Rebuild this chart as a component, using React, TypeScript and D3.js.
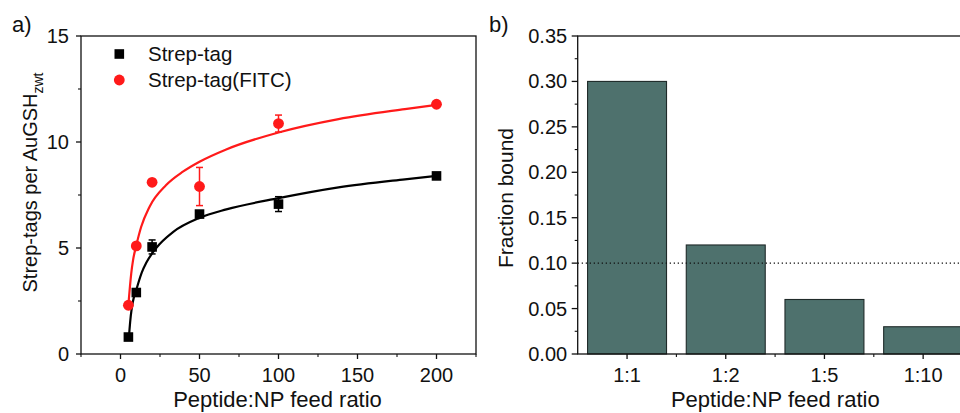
import React from "react";
import * as d3 from "d3";

// Panel a: strep-tag loading vs feed ratio
const feedRatio = [5, 10, 20, 50, 100, 200];
const strepTag = [0.8, 2.9, 5.05, 6.6, 7.07, 8.4];
const strepTagErr = [0, 0, 0.33, 0, 0.35, 0];
const strepFitc = [2.3, 5.1, 8.1, 7.9, 10.87, 11.78];
const strepFitcErr = [0, 0, 0, 0.9, 0.4, 0];

// Fitted curves, sampled as [x, y]
const strepTagFit: [number, number][] = [
  [5.3, 0.75], [5.7, 1.15], [6.5, 1.8], [7.8, 2.45], [9.9, 3.0], [11, 3.28], [13.5, 3.85],
  [16.3, 4.3], [22.6, 5.0], [33.2, 5.75], [50, 6.42], [67, 6.82], [100, 7.35],
  [138, 7.86], [180, 8.24], [200, 8.4],
];
const strepFitcFit: [number, number][] = [
  [4.8, 2.1], [5.3, 2.6], [6.0, 3.2], [6.8, 3.8], [8, 4.45], [9.9, 5.09], [13.1, 6.0],
  [18.4, 6.95], [28.9, 7.97], [39.5, 8.6], [50, 9.07], [66.9, 9.65], [100, 10.45],
  [138, 11.08], [180, 11.55], [200, 11.75],
];

const xTicksA = [0, 50, 100, 150, 200];
const xMinorA = [-25, 25, 75, 125, 175, 225];
const yTicksA = [0, 5, 10, 15];
const yMinorA = [2.5, 7.5, 12.5];

// Panel b: fraction bound per feed ratio
const ratioLabels = ["1:1", "1:2", "1:5", "1:10"];
const fractionBound = [0.3, 0.12, 0.06, 0.03];
const thresholdLine = 0.1;
const yTicksB = [0, 0.05, 0.1, 0.15, 0.2, 0.25, 0.3, 0.35];
const yMinorB = [0.025, 0.075, 0.125, 0.175, 0.225, 0.275, 0.325];

const FONT = "'Liberation Sans', Arial, Helvetica, sans-serif";
const INK = "#111";
const RED = "#ff1a1a";

export default function App() {
  const W = 960;
  const H = 413;

  // panel a geometry
  const aL = 81, aR = 476, aT = 36, aB = 354;
  const xA = d3.scaleLinear().domain([-25, 225]).range([aL, aR]);
  const yA = d3.scaleLinear().domain([0, 15]).range([aB, aT]);
  const fitLine = d3
    .line<[number, number]>()
    .x((d) => xA(d[0]))
    .y((d) => yA(d[1]))
    .curve(d3.curveMonotoneX);

  // panel b geometry
  const bL = 577.7, bR = 972.5, bT = 36, bB = 354;
  const xB = d3.scalePoint<string>().domain(ratioLabels).range([bL, bR]).padding(0.5);
  const stepB = xB.step();
  const barW = stepB * 0.8;
  const yB = d3.scaleLinear().domain([0, 0.35]).range([bB, bT]);

  const errBar = (x: number, y: number, e: number, color: string, key: string) => {
    if (!e) return null;
    const cx = xA(x);
    const y1 = yA(y + e);
    const y2 = yA(y - e);
    return (
      <g key={key} stroke={color} strokeWidth={1.5}>
        <line x1={cx} x2={cx} y1={y1} y2={y2} />
        <line x1={cx - 3.5} x2={cx + 3.5} y1={y1} y2={y1} />
        <line x1={cx - 3.5} x2={cx + 3.5} y1={y2} y2={y2} />
      </g>
    );
  };

  return (
    <svg
      width={W}
      height={H}
      style={{ position: "absolute", left: 0, top: 0, background: "#fff" }}
      fontFamily={FONT}
    >
      {/* ---------- panel a ---------- */}
      <text x={12} y={32} fontSize={22} fill={INK}>a)</text>

      {/* y ticks */}
      {yTicksA.map((t) => (
        <g key={"ya" + t}>
          <line x1={aL - 5} x2={aL} y1={yA(t)} y2={yA(t)} stroke={INK} strokeWidth={1.3} />
          <text x={aL - 12} y={yA(t)} dy="0.35em" textAnchor="end" fontSize={20} fill={INK}>
            {t}
          </text>
        </g>
      ))}
      {yMinorA.map((t) => (
        <line key={"yma" + t} x1={aL - 3} x2={aL} y1={yA(t)} y2={yA(t)} stroke={INK} strokeWidth={1.1} />
      ))}
      {/* x ticks */}
      {xTicksA.map((t) => (
        <g key={"xa" + t}>
          <line x1={xA(t)} x2={xA(t)} y1={aB} y2={aB + 5} stroke={INK} strokeWidth={1.3} />
          <text x={xA(t)} y={382} textAnchor="middle" fontSize={20} fill={INK}>
            {t}
          </text>
        </g>
      ))}
      {xMinorA.map((t) => (
        <line key={"xma" + t} x1={xA(t)} x2={xA(t)} y1={aB} y2={aB + 3} stroke={INK} strokeWidth={1.1} />
      ))}

      {/* frame */}
      <rect x={aL} y={aT} width={aR - aL} height={aB - aT} fill="none" stroke={INK} strokeWidth={1.3} />

      {/* fits */}
      <path d={fitLine(strepTagFit) || ""} fill="none" stroke="#000" strokeWidth={2.2} />
      <path d={fitLine(strepFitcFit) || ""} fill="none" stroke={RED} strokeWidth={2.2} />

      {/* error bars */}
      {feedRatio.map((x, i) => errBar(x, strepTag[i], strepTagErr[i], "#000", "eb" + i))}
      {feedRatio.map((x, i) => errBar(x, strepFitc[i], strepFitcErr[i], RED, "er" + i))}

      {/* markers */}
      {feedRatio.map((x, i) => (
        <rect
          key={"sq" + i}
          x={xA(x) - 4.8}
          y={yA(strepTag[i]) - 4.8}
          width={9.6}
          height={9.6}
          fill="#000"
        />
      ))}
      {feedRatio.map((x, i) => (
        <circle key={"ci" + i} cx={xA(x)} cy={yA(strepFitc[i])} r={5.4} fill={RED} />
      ))}

      {/* legend */}
      <rect x={119.3 - 4.8} y={54 - 4.8} width={9.6} height={9.6} fill="#000" />
      <text x={148} y={61} fontSize={20.5} fill={INK}>Strep-tag</text>
      <circle cx={119.3} cy={80} r={5.4} fill={RED} />
      <text x={148} y={87} fontSize={20.5} fill={INK}>Strep-tag(FITC)</text>

      {/* axis titles */}
      <text x={277.5} y={407} textAnchor="middle" fontSize={22} fill={INK}>
        Peptide:NP feed ratio
      </text>
      <text transform={`translate(37,182.5) rotate(-90)`} textAnchor="middle" fontSize={20} fill={INK}>
        Strep-tags per AuGSH
        <tspan fontSize={14} dy={6}>zwt</tspan>
      </text>

      {/* ---------- panel b ---------- */}
      <text x={489} y={32} fontSize={22} fill={INK}>b)</text>

      {/* bars */}
      {ratioLabels.map((c, i) => (
        <rect
          key={"bar" + c}
          x={(xB(c) as number) - barW / 2}
          y={yB(fractionBound[i])}
          width={barW}
          height={bB - yB(fractionBound[i])}
          fill="#4e716d"
          stroke="#1f2a29"
          strokeWidth={1.1}
        />
      ))}

      {/* threshold */}
      <line
        x1={bL}
        x2={W}
        y1={yB(thresholdLine)}
        y2={yB(thresholdLine)}
        stroke={INK}
        strokeWidth={1.3}
        strokeDasharray="1.3,2.7"
      />

      {/* y ticks */}
      {yTicksB.map((t) => (
        <g key={"yb" + t}>
          <line x1={bL - 6} x2={bL} y1={yB(t)} y2={yB(t)} stroke={INK} strokeWidth={1.3} />
          <text x={bL - 10.5} y={yB(t)} dy="0.35em" textAnchor="end" fontSize={20} fill={INK}>
            {t.toFixed(2)}
          </text>
        </g>
      ))}
      {yMinorB.map((t) => (
        <line key={"ymb" + t} x1={bL - 3} x2={bL} y1={yB(t)} y2={yB(t)} stroke={INK} strokeWidth={1.1} />
      ))}
      {/* x ticks */}
      {ratioLabels.map((c) => (
        <g key={"xb" + c}>
          <line x1={xB(c)} x2={xB(c)} y1={bB} y2={bB + 5} stroke={INK} strokeWidth={1.3} />
          <text x={xB(c)} y={382} textAnchor="middle" fontSize={20} fill={INK}>
            {c}
          </text>
        </g>
      ))}
      {ratioLabels.slice(0, -1).map((c) => (
        <line
          key={"xmb" + c}
          x1={(xB(c) as number) + stepB / 2}
          x2={(xB(c) as number) + stepB / 2}
          y1={bB}
          y2={bB + 3}
          stroke={INK}
          strokeWidth={1.1}
        />
      ))}

      {/* frame */}
      <rect x={bL} y={bT} width={bR - bL} height={bB - bT} fill="none" stroke={INK} strokeWidth={1.3} />

      {/* axis titles */}
      <text x={775.3} y={407} textAnchor="middle" fontSize={22} fill={INK}>
        Peptide:NP feed ratio
      </text>
      <text transform={`translate(513,198) rotate(-90)`} textAnchor="middle" fontSize={21} fill={INK}>
        Fraction bound
      </text>
    </svg>
  );
}
